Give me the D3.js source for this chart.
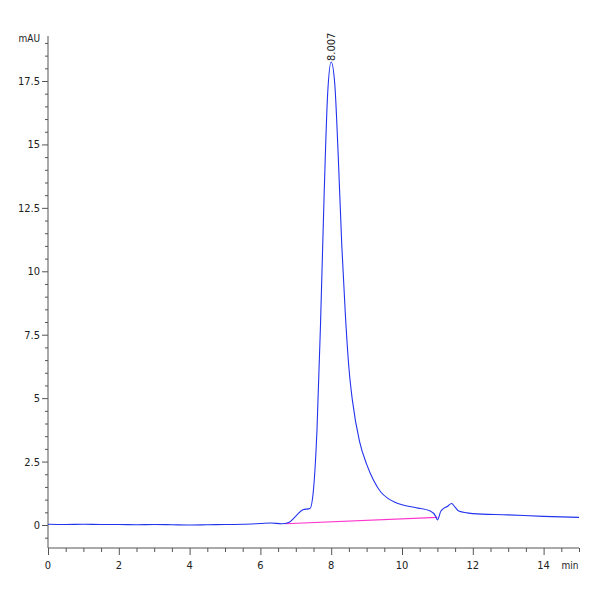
<!DOCTYPE html>
<html><head><meta charset="utf-8">
<script src="https://cdn.jsdelivr.net/npm/d3@7"></script>
<style>body{margin:0;background:#fff}text{font-family:"Liberation Sans Narrow","DejaVu Sans Condensed",sans-serif;}</style>
</head><body><div id="chart"></div>
<script>
// chromatogram trace (min, mAU)
const times = [0,0.5,1,1.5,2,2.5,3,3.5,4,4.5,5,5.5,6,6.3,6.6,6.8,7.0,7.2,7.4,7.5,7.6,7.7,7.8,7.9,8.0,8.1,8.2,8.3,8.4,8.5,8.6,8.8,9.0,9.2,9.4,9.6,9.8,10,10.4,10.8,10.95,11.0,11.1,11.3,11.4,11.5,11.6,12,13,14,15];
const signal = [0.03,0.02,0.03,0.02,0.02,0.01,0.02,0.01,0.0,0.01,0.02,0.03,0.06,0.08,0.05,0.1,0.35,0.6,0.65,1.4,3.8,8,13,17,18.25,17.4,14.5,11,8.3,6.2,4.9,3.3,2.4,1.75,1.3,1.05,0.9,0.8,0.68,0.55,0.35,0.2,0.55,0.75,0.85,0.7,0.55,0.45,0.4,0.34,0.3];
const baseline = [[6.7,0.05],[11.0,0.3]];
const peakLabel = {t: 8.007, v: 18.25, text: "8.007"};
const yTicks = [0,2.5,5,7.5,10,12.5,15,17.5];
const xTicks = [0,2,4,6,8,10,12,14];

const svg = d3.select("#chart").append("svg").attr("width",600).attr("height",600);
const x = d3.scaleLinear().domain([0,15]).range([48,579]);
const y = d3.scaleLinear().domain([0,17.5]).range([525,81]);
const yBottom = 548, yTop = 36;

// axes
const xAxis = svg.append("g").attr("transform",`translate(0,${yBottom})`);
xAxis.call(d3.axisBottom(x).tickValues(d3.range(0,15.01,0.5)).tickSize(4).tickFormat(""));
xAxis.call(g=>g.selectAll(".tick").filter(d=>xTicks.includes(d)).select("line").attr("y2",7));
xAxis.selectAll("path,line").attr("stroke","#555");
xAxis.select(".domain").attr("d",`M${x(0)},0H${x(15)}`);
xTicks.forEach(t=>svg.append("text").attr("x",x(t)).attr("y",yBottom+21).attr("text-anchor","middle").attr("font-size",11).attr("fill","#222").text(t));
svg.append("text").attr("x",570).attr("y",yBottom+21).attr("text-anchor","middle").attr("font-size",10).attr("fill","#222").text("min");

const yAxis = svg.append("g").attr("transform",`translate(48,0)`);
const yMinor = d3.range(-0.5,19.01,0.5);
yAxis.call(d3.axisLeft(y).tickValues(yMinor).tickSize(3).tickFormat(""));
yAxis.call(g=>g.selectAll(".tick").filter(d=>yTicks.includes(d)).select("line").attr("x2",-6));
yAxis.selectAll("path,line").attr("stroke","#555");
yAxis.select(".domain").attr("d",`M0,${yTop}V${yBottom}`);
yTicks.forEach(t=>svg.append("text").attr("x",40).attr("y",y(t)+4).attr("text-anchor","end").attr("font-size",11).attr("fill","#222").text(t));
svg.append("text").attr("x",40).attr("y",y(19.2)+4).attr("text-anchor","end").attr("font-size",10).attr("fill","#222").text("mAU");

// baseline
svg.append("line").attr("x1",x(baseline[0][0])).attr("y1",y(baseline[0][1])).attr("x2",x(baseline[1][0])).attr("y2",y(baseline[1][1])).attr("stroke","#ff33cc").attr("stroke-width",1.2);

// trace
const line = d3.line().x(d=>x(d[0])).y(d=>y(d[1])).curve(d3.curveMonotoneX);
svg.append("path").datum(times.map((t,i)=>[t,signal[i]])).attr("d",line).attr("fill","none").attr("stroke","#2233ee").attr("stroke-width",1.1);

// peak label
svg.append("text").attr("transform",`translate(${x(peakLabel.t)+4},${y(peakLabel.v)-1}) rotate(-90)`).attr("text-anchor","start").attr("font-size",11).attr("fill","#222").text(peakLabel.text);
</script></body></html>
